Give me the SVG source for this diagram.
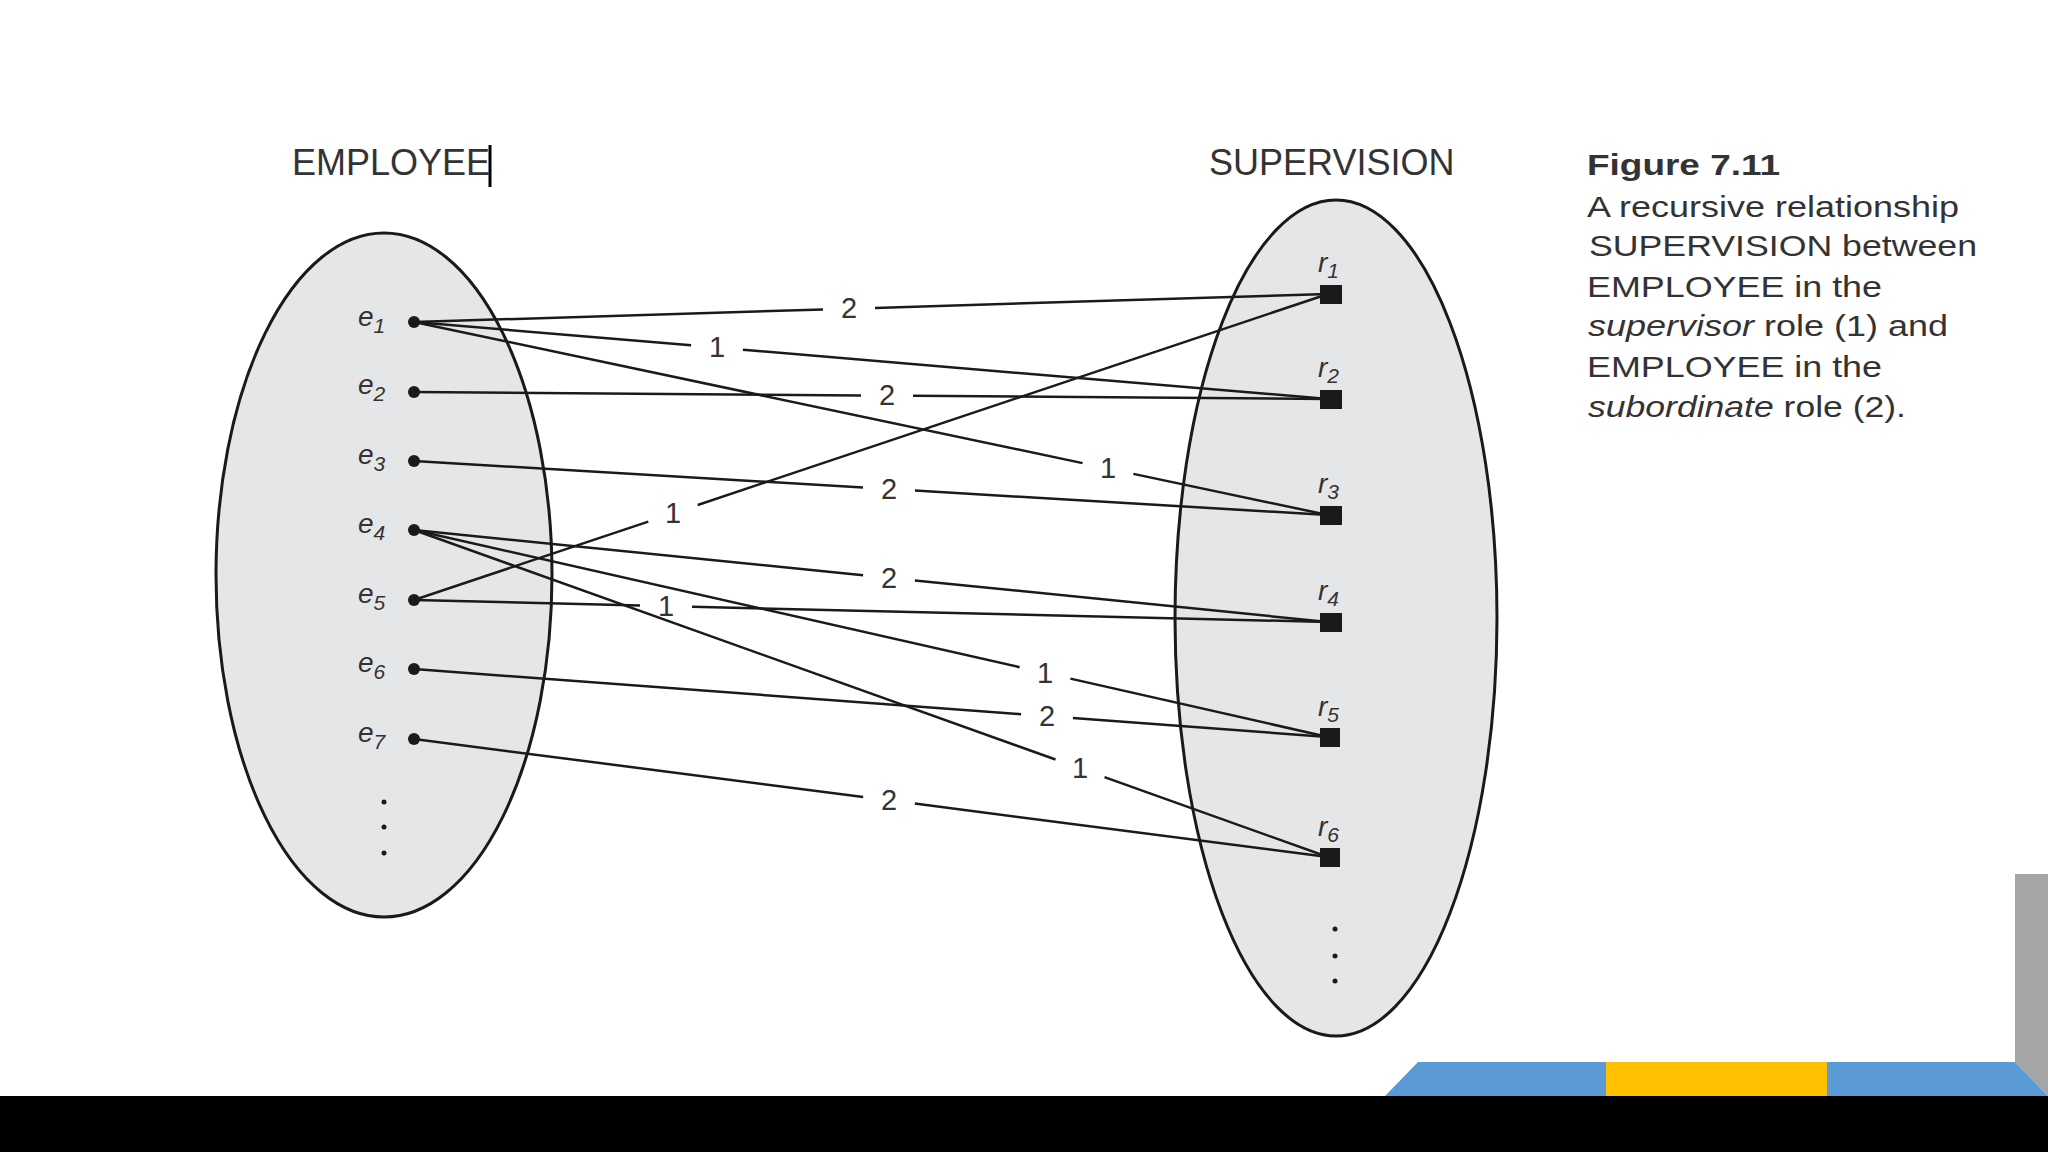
<svg xmlns="http://www.w3.org/2000/svg" width="2048" height="1152" viewBox="0 0 2048 1152">
<style>
.set{fill:#e5e6e8;stroke:#1a1a1a;stroke-width:3}
.ttl{font-family:"Liberation Sans",Arial,sans-serif;font-size:36px;fill:#333}
.lbl{font-family:"Liberation Sans",Arial,sans-serif;font-size:28px;font-style:italic;fill:#333}
.sub{font-size:21px}
.num{font-family:"Liberation Sans",Arial,sans-serif;font-size:29px;fill:#333;text-anchor:middle}
.cap{font-family:"Liberation Sans",Arial,sans-serif;font-size:30px;fill:#333}
.conn line{stroke:#1a1a1a;stroke-width:2.5}
.edot{fill:#1a1a1a}
.rsq{fill:#1a1a1a}
</style>
<rect width="2048" height="1152" fill="#fff"/>
<g id="employee-set">
<ellipse class="set" cx="384" cy="575" rx="168" ry="342"/>
<text class="ttl" x="292" y="175">EMPLOYEE</text>
<line x1="490" y1="145" x2="490" y2="187" stroke="#000" stroke-width="3"/>
<circle class="edot" cx="384" cy="802" r="2.5"/>
<circle class="edot" cx="384" cy="827" r="2.5"/>
<circle class="edot" cx="384" cy="853" r="2.5"/>
</g>
<g id="supervision-set">
<ellipse class="set" cx="1336" cy="618" rx="161" ry="418"/>
<text class="ttl" x="1209" y="175">SUPERVISION</text>
<circle class="edot" cx="1335" cy="929" r="2.5"/>
<circle class="edot" cx="1335" cy="956" r="2.5"/>
<circle class="edot" cx="1335" cy="981" r="2.5"/>
</g>
<g class="conn" id="connectors">
<line x1="414" y1="322" x2="823" y2="309.5"/><line x1="875" y1="307.9" x2="1328" y2="294"/>
<line x1="414" y1="322" x2="691.1" y2="345.3"/><line x1="742.9" y1="349.7" x2="1328" y2="399"/>
<line x1="414" y1="322" x2="1082.6" y2="463.1"/><line x1="1133.4" y1="473.9" x2="1328" y2="515"/>
<line x1="414" y1="392" x2="861" y2="395.4"/><line x1="913" y1="395.8" x2="1328" y2="399"/>
<line x1="414" y1="461" x2="863" y2="487.5"/><line x1="915" y1="490.6" x2="1328" y2="515"/>
<line x1="414" y1="600" x2="648.3" y2="521.6"/><line x1="697.7" y1="505" x2="1328" y2="294"/>
<line x1="414" y1="530" x2="863.1" y2="575.2"/><line x1="914.9" y1="580.4" x2="1328" y2="622"/>
<line x1="414" y1="600" x2="640" y2="605.5"/><line x1="692" y1="606.7" x2="1328" y2="622"/>
<line x1="414" y1="530" x2="1019.6" y2="667.2"/><line x1="1070.4" y1="678.6" x2="1328" y2="737"/>
<line x1="414" y1="669" x2="1021.1" y2="714.2"/><line x1="1072.9" y1="718" x2="1328" y2="737"/>
<line x1="414" y1="530" x2="1055.5" y2="759.5"/><line x1="1104.5" y1="777.1" x2="1328" y2="857"/>
<line x1="414" y1="739" x2="863.2" y2="797"/><line x1="914.8" y1="803.6" x2="1328" y2="857"/>
<text class="num" x="849" y="318">2</text>
<text class="num" x="717" y="357">1</text>
<text class="num" x="1108" y="478">1</text>
<text class="num" x="887" y="405">2</text>
<text class="num" x="889" y="499">2</text>
<text class="num" x="673" y="523">1</text>
<text class="num" x="889" y="588">2</text>
<text class="num" x="666" y="616">1</text>
<text class="num" x="1045" y="683">1</text>
<text class="num" x="1047" y="726">2</text>
<text class="num" x="1080" y="778">1</text>
<text class="num" x="889" y="810">2</text>
</g>
<g id="e1"><circle class="edot" cx="414" cy="322" r="6"/><text class="lbl" x="358" y="326">e<tspan class="sub" dy="7">1</tspan></text></g>
<g id="e2"><circle class="edot" cx="414" cy="392" r="6"/><text class="lbl" x="358" y="394">e<tspan class="sub" dy="7">2</tspan></text></g>
<g id="e3"><circle class="edot" cx="414" cy="461" r="6"/><text class="lbl" x="358" y="464">e<tspan class="sub" dy="7">3</tspan></text></g>
<g id="e4"><circle class="edot" cx="414" cy="530" r="6"/><text class="lbl" x="358" y="533">e<tspan class="sub" dy="7">4</tspan></text></g>
<g id="e5"><circle class="edot" cx="414" cy="600" r="6"/><text class="lbl" x="358" y="603">e<tspan class="sub" dy="7">5</tspan></text></g>
<g id="e6"><circle class="edot" cx="414" cy="669" r="6"/><text class="lbl" x="358" y="672">e<tspan class="sub" dy="7">6</tspan></text></g>
<g id="e7"><circle class="edot" cx="414" cy="739" r="6"/><text class="lbl" x="358" y="742">e<tspan class="sub" dy="7">7</tspan></text></g>
<g id="r1"><rect class="rsq" x="1320" y="285" width="22" height="19"/><text class="lbl" x="1318" y="272">r<tspan class="sub" dy="6">1</tspan></text></g>
<g id="r2"><rect class="rsq" x="1320" y="390" width="22" height="19"/><text class="lbl" x="1318" y="377">r<tspan class="sub" dy="6">2</tspan></text></g>
<g id="r3"><rect class="rsq" x="1320" y="506" width="22" height="19"/><text class="lbl" x="1318" y="493">r<tspan class="sub" dy="6">3</tspan></text></g>
<g id="r4"><rect class="rsq" x="1320" y="613" width="22" height="19"/><text class="lbl" x="1318" y="600">r<tspan class="sub" dy="6">4</tspan></text></g>
<g id="r5"><rect class="rsq" x="1320" y="728" width="20" height="19"/><text class="lbl" x="1318" y="716">r<tspan class="sub" dy="6">5</tspan></text></g>
<g id="r6"><rect class="rsq" x="1320" y="848" width="20" height="19"/><text class="lbl" x="1318" y="836">r<tspan class="sub" dy="6">6</tspan></text></g>
<g id="caption">
<text class="cap" x="1587" y="175" font-weight="bold" font-size="35" textLength="193" lengthAdjust="spacingAndGlyphs" fill="#111">Figure 7.11</text>
<text class="cap" x="1587" y="217" textLength="372" lengthAdjust="spacingAndGlyphs">A recursive relationship</text>
<text class="cap" x="1589" y="256" textLength="388" lengthAdjust="spacingAndGlyphs">SUPERVISION between</text>
<text class="cap" x="1587" y="297" textLength="295" lengthAdjust="spacingAndGlyphs">EMPLOYEE in the</text>
<text class="cap" x="1588" y="336" textLength="360" lengthAdjust="spacingAndGlyphs"><tspan font-style="italic">supervisor</tspan> role (1) and</text>
<text class="cap" x="1587" y="377" textLength="295" lengthAdjust="spacingAndGlyphs">EMPLOYEE in the</text>
<text class="cap" x="1588" y="417" textLength="318" lengthAdjust="spacingAndGlyphs"><tspan font-style="italic">subordinate</tspan> role (2).</text>
</g>
<g id="footer">
<polygon points="2015,874 2048,874 2048,1096 2015,1062" fill="#a5a5a5"/>
<polygon points="1385,1096 1418,1062 1606,1062 1606,1096" fill="#5b9bd5"/>
<rect x="1606" y="1062" width="221" height="34" fill="#ffc000"/>
<polygon points="1827,1062 2015,1062 2048,1096 1827,1096" fill="#5b9bd5"/>
<rect x="0" y="1096" width="2048" height="56" fill="#000"/>
</g>
</svg>
